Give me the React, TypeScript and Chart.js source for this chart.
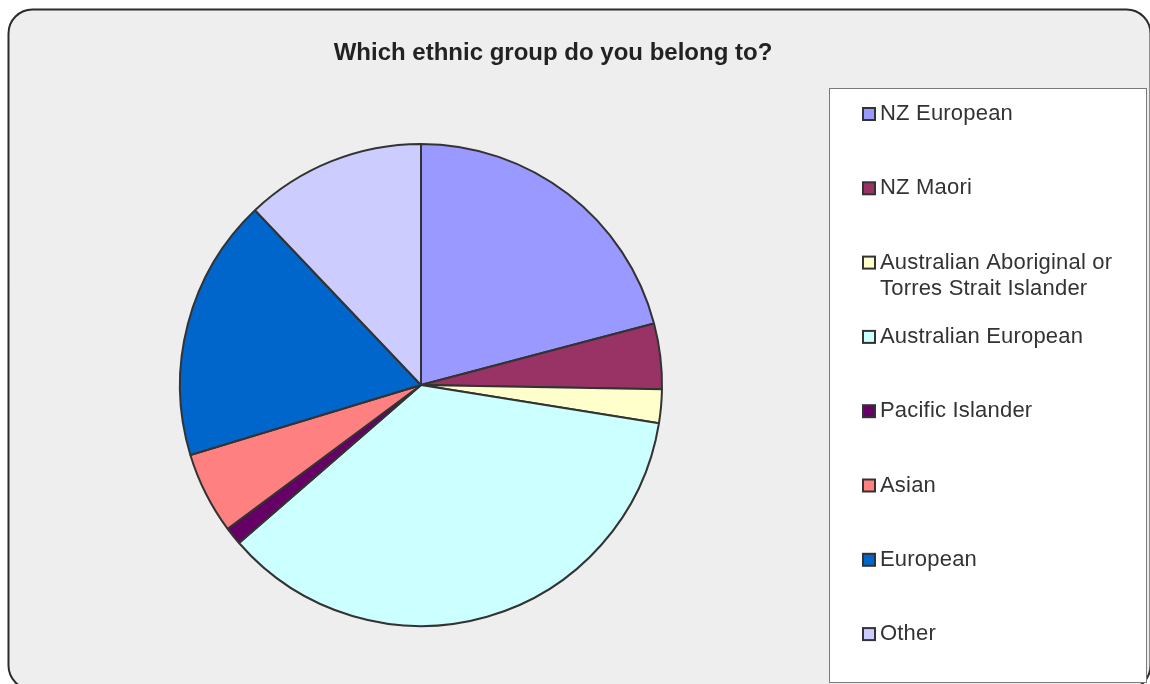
import React, { useEffect, useRef } from "react";
import { Chart, registerables } from "chart.js";

Chart.register(...registerables);

const TITLE = "Which ethnic group do you belong to?";
const labels = [
  "NZ European",
  "NZ Maori",
  "Australian Aboriginal or Torres Strait Islander",
  "Australian European",
  "Pacific Islander",
  "Asian",
  "European",
  "Other",
];
const values = [20.9, 4.4, 2.25, 36.1, 1.2, 5.5, 17.6, 12.1];
const colors = [
  "#9999FF",
  "#993366",
  "#FFFFCC",
  "#CCFFFF",
  "#660066",
  "#FF8080",
  "#0066CC",
  "#CCCCFF",
];

const W = 1150;
const H = 684;

function roundRect(ctx: CanvasRenderingContext2D, x: number, y: number, w: number, h: number, r: number) {
  ctx.beginPath();
  ctx.moveTo(x + r, y);
  ctx.lineTo(x + w - r, y);
  ctx.arcTo(x + w, y, x + w, y + r, r);
  ctx.lineTo(x + w, y + h - r);
  ctx.arcTo(x + w, y + h, x + w - r, y + h, r);
  ctx.lineTo(x + r, y + h);
  ctx.arcTo(x, y + h, x, y + h - r, r);
  ctx.lineTo(x, y + r);
  ctx.arcTo(x, y, x + r, y, r);
  ctx.closePath();
}

function wrap(ctx: CanvasRenderingContext2D, text: string, maxW: number): string[] {
  const words = text.split(" ");
  const lines: string[] = [];
  let cur = "";
  for (const w of words) {
    const t = cur ? cur + " " + w : w;
    if (ctx.measureText(t).width > maxW && cur) {
      lines.push(cur);
      cur = w;
    } else cur = t;
  }
  if (cur) lines.push(cur);
  return lines;
}

const decor = {
  id: "decor",
  beforeDraw(chart: any) {
    const ctx = chart.ctx as CanvasRenderingContext2D;
    ctx.save();
    ctx.fillStyle = "#FFFFFF";
    ctx.fillRect(0, 0, W, H);
    roundRect(ctx, 8.5, 9.5, 1142, 680, 24);
    ctx.fillStyle = "#EEEEEE";
    ctx.fill();
    ctx.lineWidth = 2;
    ctx.strokeStyle = "#2B2B2B";
    ctx.stroke();
    // legend box
    ctx.fillStyle = "#FFFFFF";
    ctx.fillRect(829.5, 88.5, 317, 594);
    ctx.lineWidth = 1;
    ctx.strokeStyle = "#7A7A7A";
    ctx.strokeRect(829.5, 88.5, 317, 594);
    ctx.restore();
  },
  afterDraw(chart: any) {
    const ctx = chart.ctx as CanvasRenderingContext2D;
    ctx.save();
    // title
    ctx.fillStyle = "#222222";
    ctx.font = "bold 24px 'Liberation Sans', Arial, sans-serif";
    ctx.textAlign = "center";
    ctx.textBaseline = "middle";
    ctx.fillText(TITLE, 553, 53);
    // legend
    ctx.font = "22px 'Liberation Sans', Arial, sans-serif";
    ctx.textAlign = "left";
    (ctx as any).letterSpacing = "0.2px";
    const meta = chart.getDatasetMeta(0);
    labels.forEach((lab, i) => {
      const y = 113 + i * 74.3;
      const el = meta.data[i];
      ctx.fillStyle = el.options.backgroundColor;
      ctx.fillRect(863, y - 5, 12, 12);
      ctx.lineWidth = 2;
      ctx.strokeStyle = "#333333";
      ctx.strokeRect(863, y - 5, 12, 12);
      ctx.fillStyle = "#333333";
      const lines = wrap(ctx, lab, 255);
      lines.forEach((ln, k) => {
        ctx.fillText(ln, 880, y + 1 + k * 26);
      });
    });
    ctx.restore();
  },
};

export default function App() {
  const ref = useRef<HTMLCanvasElement | null>(null);
  useEffect(() => {
    if (!ref.current) return;
    const chart = new Chart(ref.current, {
      type: "pie",
      data: {
        labels,
        datasets: [
          {
            data: values,
            backgroundColor: colors,
            borderColor: "#333333",
            borderWidth: 2,
            hoverBorderWidth: 2,
            hoverOffset: 0,
          },
        ],
      },
      options: {
        responsive: false,
        animation: false,
        devicePixelRatio: 1,
        layout: { padding: { left: 179, right: 487, top: 143, bottom: 57 } },
        plugins: {
          legend: { display: false },
          title: { display: false },
          tooltip: { enabled: false },
        },
      },
      plugins: [decor],
    });
    return () => chart.destroy();
  }, []);
  return (
    <div style={{ position: "fixed", left: 0, top: 0, width: W, height: H, background: "#fff" }}>
      <canvas ref={ref} width={W} height={H} style={{ width: W, height: H, display: "block" }} />
    </div>
  );
}
